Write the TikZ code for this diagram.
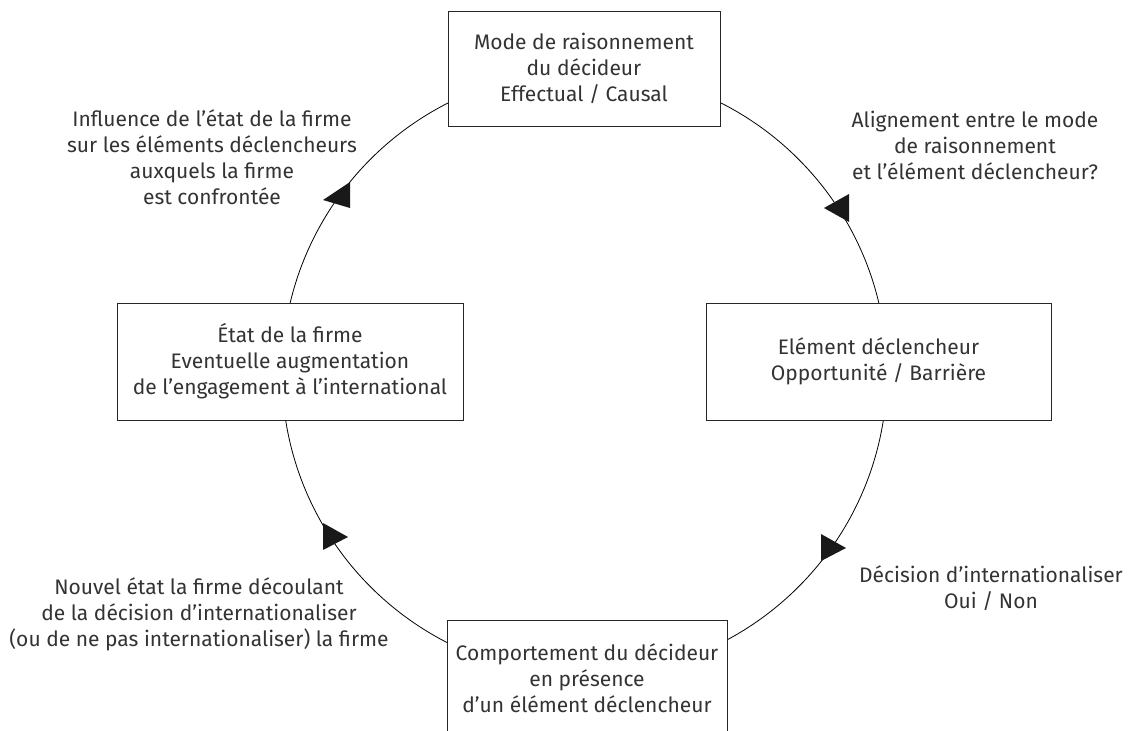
\documentclass[tikz,border=0pt]{standalone}
\usepackage{fontspec}
\setmainfont{Fira Sans}
\definecolor{txt}{HTML}{333333}
\begin{document}
\begin{tikzpicture}[x=1pt,y=-1pt,
  every node/.style={font=\fontsize{21}{26}\selectfont, text=txt},
  box/.style={draw=black!85, line width=1pt, fill=white, align=center, inner sep=0pt},
  lbl/.style={align=center, inner sep=0pt},
  tri/.style={fill=black!90, draw=none}]
\useasboundingbox (0,0) rectangle (1128,731);
\node[draw=black, circle, minimum size=605pt, inner sep=0pt, line width=0.8pt] (ring) at (584.5,373) {};
\node[box, minimum width=272pt, minimum height=115pt] (mode) at (584,68.5) {Mode de raisonnement\\du décideur\\Effectual / Causal};
\node[box, minimum width=345pt, minimum height=117pt] (elem) at (878.5,361.5) {Elément déclencheur\\Opportunité / Barrière};
\node[box, minimum width=346pt, minimum height=117pt] (etat) at (290,361.5) {État de la firme\\Eventuelle augmentation\\de l’engagement à l’international};
\node[box, minimum width=280pt, minimum height=117pt] (comp) at (587,678.5) {Comportement du décideur\\en présence\\d’un élément déclencheur};
\node[lbl] (infl) at (212,157) {Influence de l’état de la firme\\sur les éléments déclencheurs\\auxquels la firme\\est confrontée};
\node[lbl] (alig) at (975,145) {Alignement entre le mode\\de raisonnement\\et l’élément déclencheur?};
\node[lbl] (deci) at (991,588.5) {Décision d’internationaliser\\Oui / Non};
\node[lbl] (nouv) at (199,614) {Nouvel état la firme découlant\\de la décision d’internationaliser\\(ou de ne pas internationaliser) la firme};
\fill[tri] (849,194) -- (849,222) -- (824,208) -- cycle;
\fill[tri] (821,534) -- (821,561) -- (846,548) -- cycle;
\fill[tri] (350,182) -- (350,208) -- (323,200) -- cycle;
\fill[tri] (323,523) -- (323,550) -- (348,537) -- cycle;
\end{tikzpicture}
\end{document}
